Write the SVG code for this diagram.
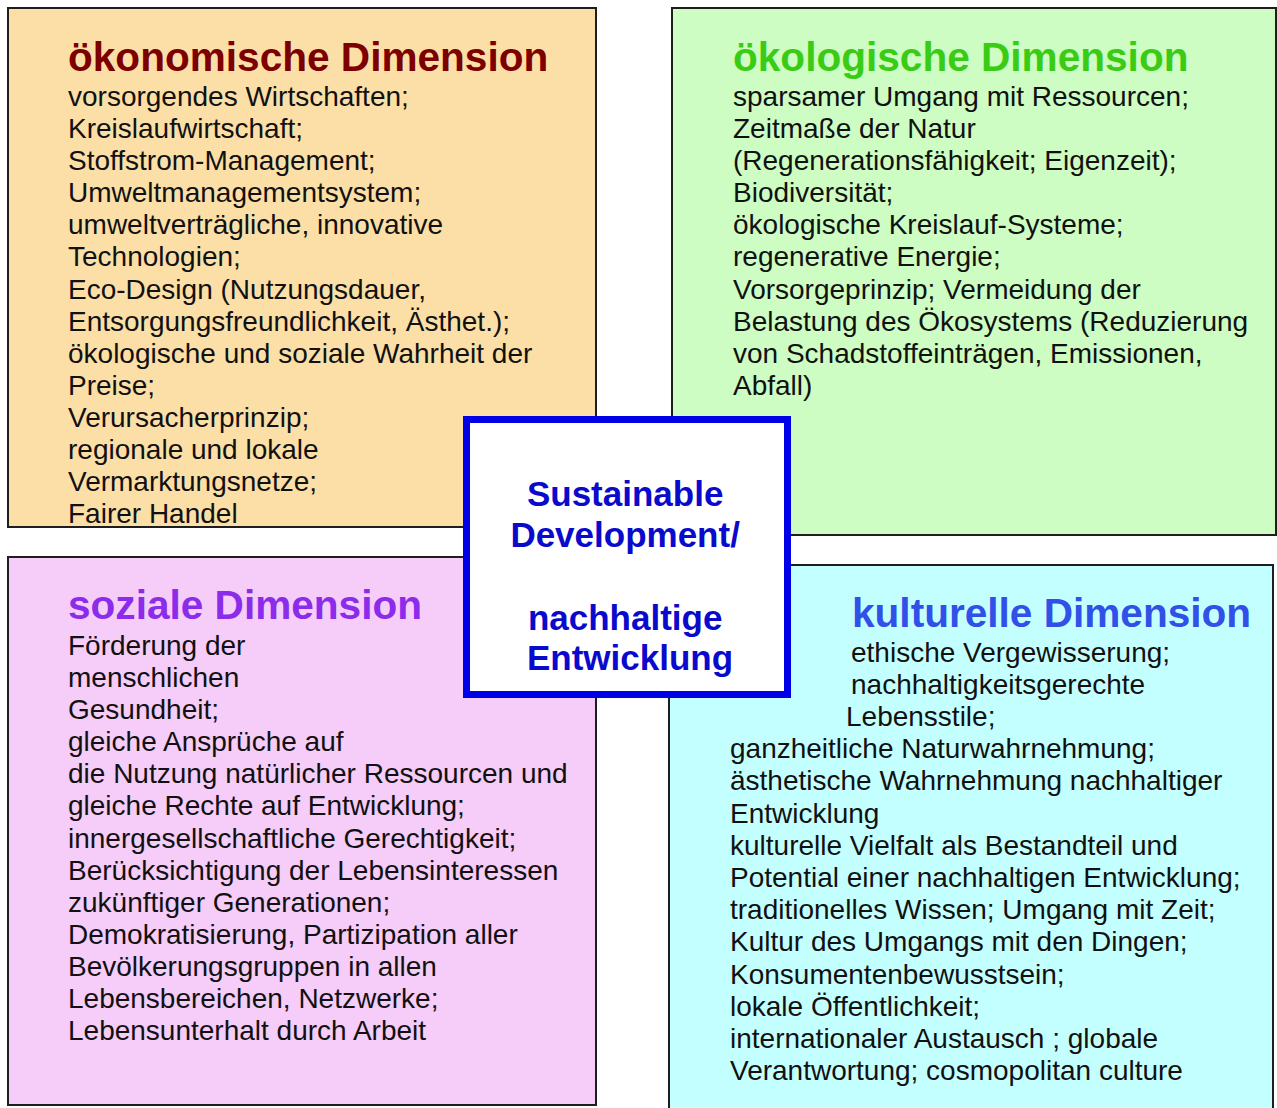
<svg xmlns="http://www.w3.org/2000/svg" width="1277" height="1108" viewBox="0 0 1277 1108">
<style>
.box{stroke:#1e1e1e;stroke-width:2}
.title{font-family:"Liberation Sans",Arial,sans-serif;font-weight:bold;font-size:40.6px}
.body{font-family:"Liberation Sans",Arial,sans-serif;font-size:28px;fill:#111}
.center{font-family:"Liberation Sans",Arial,sans-serif;font-weight:bold;font-size:35px;fill:#0a0acc;text-anchor:middle}
</style>
<rect x="0" y="0" width="1277" height="1108" fill="#ffffff"/>
<g id="oekonomisch">
<rect class="box" x="8" y="8" width="588" height="519" fill="#fcdfa7"/>
<text class="title" x="68" y="71" fill="#7d0000">ökonomische Dimension</text>
<text class="body">
<tspan x="68" y="106">vorsorgendes Wirtschaften;</tspan>
<tspan x="68" y="138.1">Kreislaufwirtschaft;</tspan>
<tspan x="68" y="170.2">Stoffstrom-Management;</tspan>
<tspan x="68" y="202.2">Umweltmanagementsystem;</tspan>
<tspan x="68" y="234.3">umweltverträgliche, innovative</tspan>
<tspan x="68" y="266.4">Technologien;</tspan>
<tspan x="68" y="298.5">Eco-Design (Nutzungsdauer,</tspan>
<tspan x="68" y="330.6">Entsorgungsfreundlichkeit, Ästhet.);</tspan>
<tspan x="68" y="362.6">ökologische und soziale Wahrheit der</tspan>
<tspan x="68" y="394.7">Preise;</tspan>
<tspan x="68" y="426.8">Verursacherprinzip;</tspan>
<tspan x="68" y="458.9">regionale und lokale</tspan>
<tspan x="68" y="491">Vermarktungsnetze;</tspan>
<tspan x="68" y="523">Fairer Handel</tspan>
</text>
</g>
<g id="oekologisch">
<rect class="box" x="672" y="8" width="604" height="527" fill="#cdfdc2"/>
<text class="title" x="733" y="71" fill="#3acc14">ökologische Dimension</text>
<text class="body">
<tspan x="733" y="106">sparsamer Umgang mit Ressourcen;</tspan>
<tspan x="733" y="138.1">Zeitmaße der Natur</tspan>
<tspan x="733" y="170.2">(Regenerationsfähigkeit; Eigenzeit);</tspan>
<tspan x="733" y="202.2">Biodiversität;</tspan>
<tspan x="733" y="234.3">ökologische Kreislauf-Systeme;</tspan>
<tspan x="733" y="266.4">regenerative Energie;</tspan>
<tspan x="733" y="298.5">Vorsorgeprinzip; Vermeidung der</tspan>
<tspan x="733" y="330.6">Belastung des Ökosystems (Reduzierung</tspan>
<tspan x="733" y="362.6">von Schadstoffeinträgen, Emissionen,</tspan>
<tspan x="733" y="394.7">Abfall)</tspan>
</text>
</g>
<g id="sozial">
<rect class="box" x="8" y="557" width="588" height="548" fill="#f6ccf9"/>
<text class="title" x="68" y="619" fill="#8a2cea">soziale Dimension</text>
<text class="body">
<tspan x="68" y="655">Förderung der</tspan>
<tspan x="68" y="687.1">menschlichen</tspan>
<tspan x="68" y="719.2">Gesundheit;</tspan>
<tspan x="68" y="751.2">gleiche Ansprüche auf</tspan>
<tspan x="68" y="783.3">die Nutzung natürlicher Ressourcen und</tspan>
<tspan x="68" y="815.4">gleiche Rechte auf Entwicklung;</tspan>
<tspan x="68" y="847.5">innergesellschaftliche Gerechtigkeit;</tspan>
<tspan x="68" y="879.6">Berücksichtigung der Lebensinteressen</tspan>
<tspan x="68" y="911.6">zukünftiger Generationen;</tspan>
<tspan x="68" y="943.7">Demokratisierung, Partizipation aller</tspan>
<tspan x="68" y="975.8">Bevölkerungsgruppen in allen</tspan>
<tspan x="68" y="1007.9">Lebensbereichen, Netzwerke;</tspan>
<tspan x="68" y="1040">Lebensunterhalt durch Arbeit</tspan>
</text>
</g>
<g id="kulturell">
<rect class="box" x="669" y="565" width="604" height="550" fill="#c4ffff"/>
<text class="title" x="852" y="627" fill="#3050e8">kulturelle Dimension</text>
<text class="body">
<tspan x="851" y="661.5">ethische Vergewisserung;</tspan>
<tspan x="851" y="693.7">nachhaltigkeitsgerechte</tspan>
<tspan x="846" y="725.9">Lebensstile;</tspan>
<tspan x="730" y="758.1">ganzheitliche Naturwahrnehmung;</tspan>
<tspan x="730" y="790.3">ästhetische Wahrnehmung nachhaltiger</tspan>
<tspan x="730" y="822.5">Entwicklung</tspan>
<tspan x="730" y="854.7">kulturelle Vielfalt als Bestandteil und</tspan>
<tspan x="730" y="886.9">Potential einer nachhaltigen Entwicklung;</tspan>
<tspan x="730" y="919.1">traditionelles Wissen; Umgang mit Zeit;</tspan>
<tspan x="730" y="951.3">Kultur des Umgangs mit den Dingen;</tspan>
<tspan x="730" y="983.5">Konsumentenbewusstsein;</tspan>
<tspan x="730" y="1015.7">lokale Öffentlichkeit;</tspan>
<tspan x="730" y="1047.9">internationaler Austausch ; globale</tspan>
<tspan x="730" y="1080">Verantwortung; cosmopolitan culture</tspan>
</text>
</g>
<g id="zentrum">
<rect x="466.5" y="419.5" width="321" height="275" fill="#ffffff" stroke="#0000e6" stroke-width="7"/>
<text class="center">
<tspan x="630" y="506">Sustainable</tspan>
<tspan x="630" y="547">Development/</tspan>
<tspan x="630" y="630">nachhaltige</tspan>
<tspan x="630" y="670">Entwicklung</tspan>
</text>
</g>
<g id="connectors"/>
</svg>
